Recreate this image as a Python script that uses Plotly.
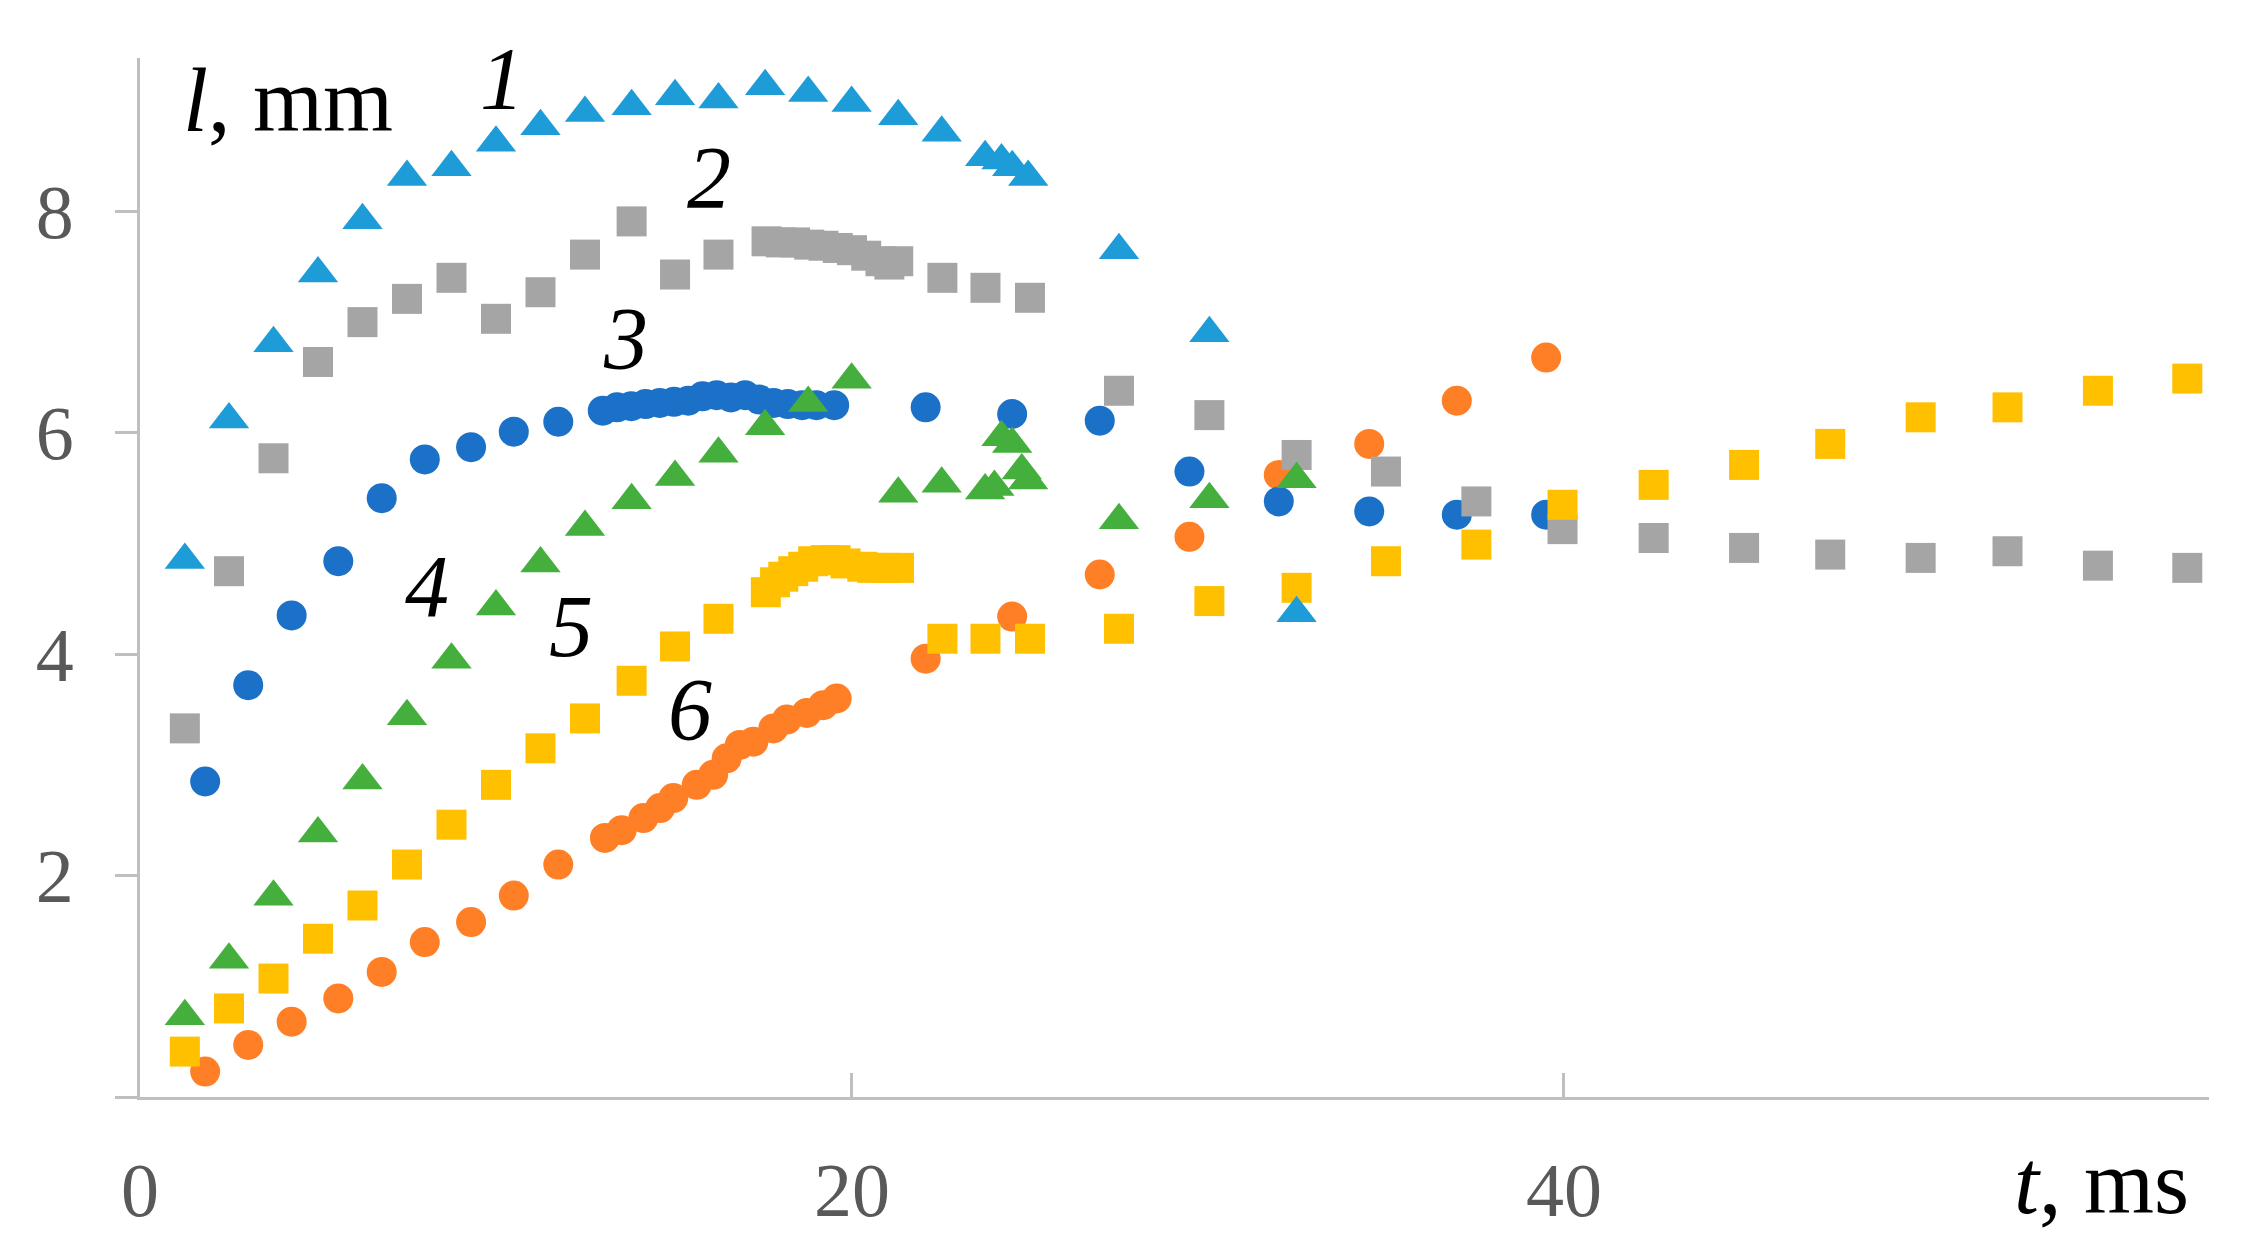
import plotly.graph_objects as go

# series 1 (light blue triangles)
t1 = [1.26, 2.5, 3.75, 5.0, 6.25, 7.5, 8.75, 10.0, 11.25, 12.5, 13.81, 15.03, 16.25,
      17.56, 18.77, 19.99, 21.3, 22.52, 23.74, 24.2, 24.5, 24.95, 27.5, 30.04, 32.49]
l1 = [4.85, 6.12, 6.81, 7.44, 7.92, 8.31, 8.40, 8.62, 8.77, 8.89, 8.95, 9.04, 9.01,
      9.13, 9.07, 8.98, 8.86, 8.71, 8.49, 8.46, 8.40, 8.31, 7.65, 6.90, 4.37]

# series 2 (gray squares)
t2 = [1.26, 2.5, 3.75, 5.0, 6.25, 7.5, 8.75, 10.0, 11.25, 12.5, 13.81, 15.03, 16.25,
      17.6, 18.0, 18.4, 18.8, 19.2, 19.6, 20.0, 20.4, 20.8, 21.05, 21.3,
      22.54, 23.75, 25.0, 27.5, 30.04, 32.49, 35.0, 37.54, 39.96, 42.52, 45.06,
      47.48, 50.02, 52.46, 55.0, 57.51]
l2 = [3.33, 4.75, 5.77, 6.64, 7.00, 7.21, 7.40, 7.03, 7.27, 7.61, 7.91, 7.43, 7.61,
      7.73, 7.72, 7.72, 7.70, 7.69, 7.67, 7.65, 7.60, 7.55, 7.52, 7.55,
      7.40, 7.31, 7.22, 6.38, 6.16, 5.80, 5.65, 5.38, 5.13, 5.05, 4.96,
      4.90, 4.87, 4.93, 4.80, 4.78]

# series 3 (dark blue circles)
t3 = [1.83, 3.04, 4.26, 5.57, 6.79, 8.0, 9.3, 10.5, 11.75,
      13.0, 13.4, 13.8, 14.2, 14.6, 15.0, 15.4, 15.8, 16.2, 16.6, 17.0, 17.4,
      17.8, 18.2, 18.6, 19.0, 19.5,
      22.07, 24.5, 26.96, 29.48, 31.99, 34.53, 36.99, 39.5]
l3 = [2.85, 3.72, 4.35, 4.84, 5.41, 5.76, 5.87, 6.01, 6.10,
      6.20, 6.23, 6.24, 6.26, 6.27, 6.28, 6.29, 6.33, 6.34, 6.32, 6.34, 6.30,
      6.27, 6.26, 6.25, 6.25, 6.25,
      6.23, 6.17, 6.11, 5.65, 5.38, 5.29, 5.26, 5.26]

# series 4 (green triangles)
t4 = [1.26, 2.5, 3.75, 5.0, 6.25, 7.5, 8.75, 10.0, 11.25, 12.5, 13.81, 15.03, 16.25,
      17.56, 18.77, 19.99, 21.3, 22.52, 23.74, 24.0, 24.2, 24.5, 24.77, 24.95,
      27.5, 30.04, 32.49]
l4 = [0.73, 1.24, 1.81, 2.38, 2.86, 3.44, 3.95, 4.43, 4.82, 5.15, 5.39, 5.60, 5.81,
      6.06, 6.27, 6.48, 5.45, 5.54, 5.48, 5.51, 5.96, 5.90, 5.66, 5.57,
      5.21, 5.40, 5.58]

# series 5 (yellow squares)
t5 = [1.26, 2.5, 3.75, 5.0, 6.25, 7.5, 8.75, 10.0, 11.25, 12.5, 13.81, 15.03, 16.25,
      17.58, 17.84, 18.07, 18.35, 18.63, 18.91, 19.26, 19.54, 19.82, 20.29, 20.57,
      20.95, 21.32,
      22.54, 23.75, 25.0, 27.5, 30.04, 32.49, 35.0, 37.54, 39.96, 42.52, 45.06,
      47.48, 50.02, 52.46, 55.0, 57.51]
l5 = [0.41, 0.80, 1.07, 1.43, 1.73, 2.10, 2.46, 2.82, 3.15, 3.42, 3.76, 4.07, 4.32,
      4.56, 4.65, 4.70, 4.75, 4.79, 4.84, 4.85, 4.85, 4.82, 4.79, 4.78,
      4.78, 4.78,
      4.14, 4.14, 4.14, 4.23, 4.48, 4.60, 4.84, 4.99, 5.35, 5.53, 5.71,
      5.90, 6.14, 6.23, 6.38, 6.49]

# series 6 (orange circles)
t6 = [1.83, 3.04, 4.26, 5.57, 6.79, 8.0, 9.3, 10.5, 11.75,
      13.06, 13.53, 14.14, 14.61, 14.98, 15.64, 16.10, 16.48, 16.85, 17.23,
      17.79, 18.17, 18.73, 19.19, 19.57,
      22.07, 24.5, 26.96, 29.48, 31.99, 34.53, 36.99, 39.5]
l6 = [0.23, 0.47, 0.68, 0.89, 1.13, 1.40, 1.58, 1.82, 2.10,
      2.34, 2.41, 2.52, 2.61, 2.70, 2.82, 2.91, 3.06, 3.18, 3.21,
      3.33, 3.41, 3.47, 3.54, 3.60,
      3.96, 4.34, 4.72, 5.06, 5.62, 5.90, 6.29, 6.68]

curve_labels = ["1", "2", "3", "4", "5", "6"]
label_t = [10.16, 15.98, 13.65, 8.06, 12.11, 15.45]
label_l = [9.20, 8.31, 6.85, 4.61, 4.25, 3.50]

x_ticks = [0, 20, 40]
y_ticks = [0, 2, 4, 6, 8]
y_ticktext = ["", "2", "4", "6", "8"]

SERIF = "Liberation Serif, Times New Roman, serif"
AXIS_GRAY = "#BFBFBF"

fig = go.Figure()

# drawing order: later traces on top
series = [
    (t6, l6, "circle", "#FF7F27", 30),
    (t3, l3, "circle", "#1B70C8", 30),
    (t2, l2, "square", "#A5A5A5", 30),
    (t5, l5, "square", "#FFC000", 30),
    (t4, l4, "triangle-up", "#45AF3D", 35),
    (t1, l1, "triangle-up", "#1E9CD7", 35),
]
for t, l, sym, col, sz in series:
    fig.add_trace(go.Scatter(
        x=t, y=l, mode="markers",
        marker=dict(symbol=sym, color=col, size=sz, line=dict(width=0)),
        showlegend=False, cliponaxis=False,
    ))

for txt, xt, yl in zip(curve_labels, label_t, label_l):
    fig.add_annotation(x=xt, y=yl, text=f"<i>{txt}</i>", showarrow=False,
                       font=dict(family=SERIF, size=88, color="black"),
                       xanchor="center", yanchor="middle")

fig.add_annotation(x=1.14, y=9.0, text="<i>l</i>, mm", showarrow=False,
                   font=dict(family=SERIF, size=90, color="black"),
                   xanchor="left", yanchor="middle")
fig.add_annotation(xref="paper", yref="paper", x=0.9913, y=-0.082,
                   text="<i>t</i>, ms", showarrow=False,
                   font=dict(family=SERIF, size=90, color="black"),
                   xanchor="right", yanchor="middle")

# the page body adds 8px, so the margins are shifted to compensate
fig.update_layout(
    width=2264, height=1258,
    margin=dict(l=132, r=63, t=50, b=169),
    paper_bgcolor="white", plot_bgcolor="white",
)
fig.update_xaxes(
    range=[0, 58.12], showgrid=False, zeroline=False, automargin=False,
    showline=True, linecolor=AXIS_GRAY, linewidth=3,
    ticks="inside", ticklen=24, tickwidth=2.5, tickcolor=AXIS_GRAY,
    tickvals=x_ticks, ticklabelstandoff=25,
    tickfont=dict(family=SERIF, size=76, color="#595959"),
)
fig.update_yaxes(
    range=[0, 9.386], showgrid=False, zeroline=False, automargin=False,
    showline=True, linecolor=AXIS_GRAY, linewidth=3,
    ticks="outside", ticklen=22, tickwidth=2.5, tickcolor=AXIS_GRAY,
    tickvals=y_ticks, ticktext=y_ticktext, ticklabelstandoff=26,
    tickfont=dict(family=SERIF, size=76, color="#595959"),
)

fig.write_html("out.html")
